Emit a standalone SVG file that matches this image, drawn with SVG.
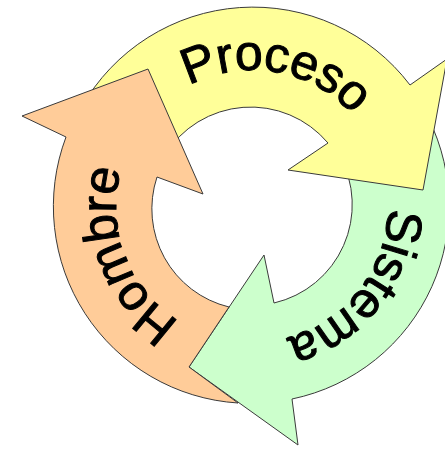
<svg xmlns="http://www.w3.org/2000/svg" width="445" height="450" viewBox="0 0 445 450">
  <style>
    .shape { stroke: #3a3a3a; stroke-width: 1; stroke-linejoin: miter; }
    .label { font-family: "Liberation Sans", Arial, sans-serif; font-size: 50px; letter-spacing: -0.6px; fill: #000; stroke: #000; stroke-width: 1; text-anchor: middle; }
  </style>
  <defs>
    <!-- clockwise baseline ring for the curved labels, starting at the bottom -->
    <path id="ring" d="M252,342 A136,136 0 1 1 252,70 A136,136 0 1 1 252,342"/>
  </defs>
  <rect width="445" height="450" fill="#ffffff"/>

  <!-- Sistema: right-hand arrow, tail tucked under the Proceso head -->
  <g id="sistema">
    <path class="shape" fill="#ccffcc" d="M422.6,107.5 A197,197 0 0 1 292,399 L298,445 L189,367 L264,255 L274,303 A101,101 0 0 0 339.5,155.5 Z"/>
    <text class="label"><textPath href="#ring" startOffset="731">Sistema</textPath></text>
  </g>

  <!-- Proceso: top arrow, tail tucked under the Hombre head -->
  <g id="proceso">
    <path class="shape" fill="#ffff99" d="M81.4,107.5 A197,197 0 0 1 410,85 L447,59 L423,190 L288,170 L328,143 A101,101 0 0 0 164.5,155.5 Z"/>
    <text class="label"><textPath href="#ring" startOffset="451">Proceso</textPath></text>
  </g>

  <!-- Hombre: left arrow, tail cut along the Sistema head -->
  <g id="hombre">
    <path class="shape" fill="#ffcc99" d="M238,403 A197,197 0 0 1 66,137 L22,116 L148,69 L203,194 L157,177 A101,101 0 0 0 229,307 L189,367 Z"/>
    <text class="label"><textPath href="#ring" startOffset="163">Hombre</textPath></text>
  </g>
</svg>
